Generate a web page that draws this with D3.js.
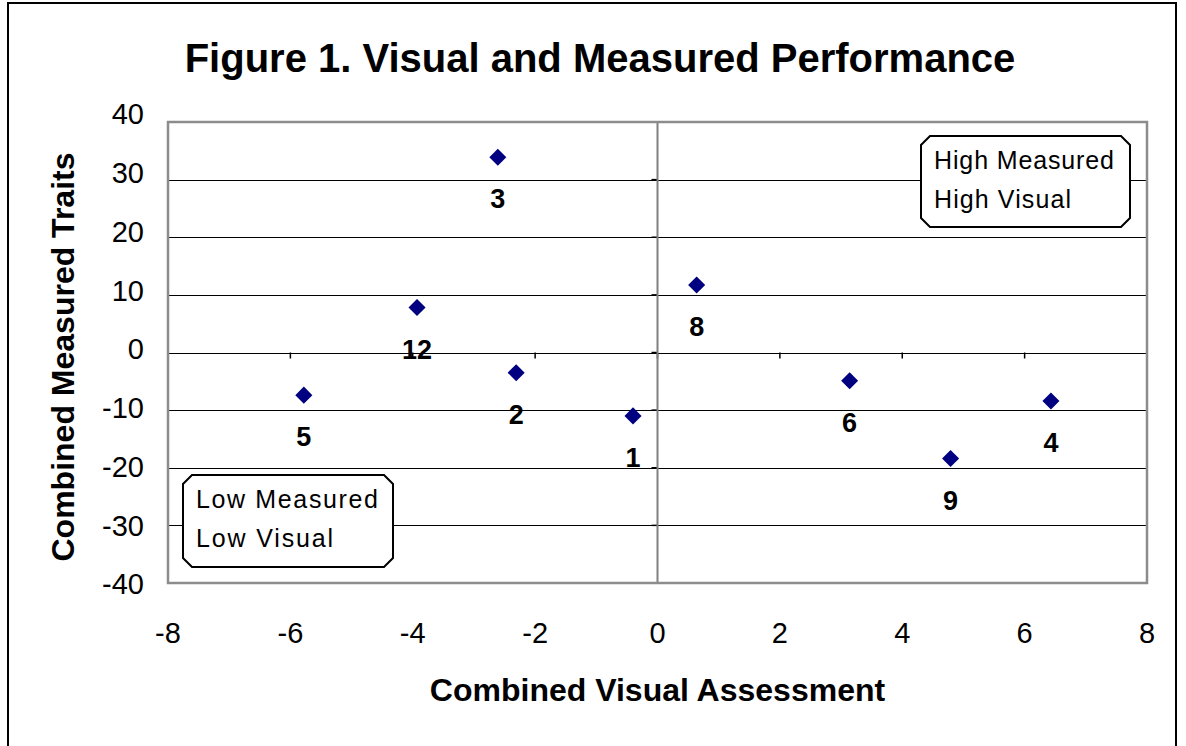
<!DOCTYPE html>
<meta charset="utf-8">
<style>
body { margin: 0; background: #fff; }
svg text { font-family: "Liberation Sans", Arial, sans-serif; fill: #000; }
.grid line { stroke: #000; stroke-width: 1px; shape-rendering: crispEdges; }
.grid path { stroke-width: 0; }
.tick-lbl { font-size: 29px; }
.axis-title { font-size: 32px; font-weight: bold; }
.pt-lbl { font-size: 27px; font-weight: bold; text-anchor: middle; }
.note { font-size: 25px; }
</style>
<body>
<script src="https://d3js.org/d3.v7.min.js"></script>
<script>

// point names, visual assessment (x) and measured traits (y)
var names    = ["3", "12", "2", "5", "1", "8", "6", "9", "4"];
var visual   = [-2.61, -3.93, -2.31, -5.78, -0.40, 0.64, 3.14, 4.79, 6.43];
var measured = [33.9, 7.8, -3.5, -7.4, -11.0, 11.7, -4.9, -18.4, -8.4];

var xTicks = [-8, -6, -4, -2, 0, 2, 4, 6, 8];
var yTicks = [40, 30, 20, 10, 0, -10, -20, -30, -40];

var width = 1186, height = 746;
var plot = {left: 168, right: 1147, top: 122, bottom: 583};

var svg = d3.select("body").append("svg")
    .attr("width", width)
    .attr("height", height);

// outer frame
svg.append("path")
    .attr("d", "M8," + height + "V3H1176V" + height)
    .attr("fill", "none")
    .attr("stroke", "#000")
    .attr("stroke-width", 2);

var x = d3.scaleLinear().domain([-8, 8]).range([plot.left, plot.right]);
var y = d3.scaleLinear().domain([-40, 40]).range([plot.bottom, plot.top]);
// excel spreads the value labels a little wider than the grid
var yLbl = d3.scaleLinear().domain([-40, 40]).range([584, 114]);

// title
svg.append("text")
    .attr("x", 600)
    .attr("y", 72)
    .attr("text-anchor", "middle")
    .style("font-size", "40px")
    .style("font-weight", "bold")
    .text("Figure 1. Visual and Measured Performance");

// horizontal gridlines
svg.append("g")
    .attr("class", "grid")
    .attr("transform", "translate(" + plot.left + ",0)")
    .call(d3.axisLeft(y).tickValues(yTicks)
        .tickSize(-(plot.right - plot.left))
        .tickFormat(""));

// tick marks on the zero lines
var ticksG = svg.append("g").attr("stroke", "#000").attr("stroke-width", 1.5);
ticksG.selectAll(".yt").data(yTicks).enter().append("line")
    .attr("x1", x(0) - 6).attr("x2", x(0))
    .attr("y1", function(d) { return y(d); })
    .attr("y2", function(d) { return y(d); });
ticksG.selectAll(".xt").data(xTicks).enter().append("line")
    .attr("x1", function(d) { return x(d); })
    .attr("x2", function(d) { return x(d); })
    .attr("y1", y(0)).attr("y2", y(0) + 6);

// vertical zero axis
svg.append("line")
    .attr("x1", x(0)).attr("x2", x(0))
    .attr("y1", plot.top).attr("y2", plot.bottom)
    .attr("stroke", "#808080")
    .attr("stroke-width", 2);

// plot border
svg.append("rect")
    .attr("x", plot.left).attr("y", plot.top)
    .attr("width", plot.right - plot.left)
    .attr("height", plot.bottom - plot.top)
    .attr("fill", "none")
    .attr("stroke", "#8c8c8c")
    .attr("stroke-width", 2.5);

// tick labels
svg.selectAll(".ylbl").data(yTicks).enter().append("text")
    .attr("class", "tick-lbl")
    .attr("x", 144)
    .attr("y", function(d) { return yLbl(d); })
    .attr("dy", "0.36em")
    .attr("text-anchor", "end")
    .text(function(d) { return d; });

svg.selectAll(".xlbl").data(xTicks).enter().append("text")
    .attr("class", "tick-lbl")
    .attr("x", function(d) { return x(d); })
    .attr("y", 643)
    .attr("text-anchor", "middle")
    .text(function(d) { return d; });

// axis titles
svg.append("text")
    .attr("class", "axis-title")
    .attr("x", x(0))
    .attr("y", 701)
    .attr("text-anchor", "middle")
    .text("Combined Visual Assessment");

svg.append("text")
    .attr("class", "axis-title")
    .attr("transform", "translate(74," + 357 + ") rotate(-90)")
    .attr("text-anchor", "middle")
    .text("Combined Measured Traits");

// bevelled note boxes
function note(x0, y0, w, h, lines) {
  var c = 9;
  var g = svg.append("g");
  g.append("path")
      .attr("d", "M" + (x0 + c) + "," + y0 + "H" + (x0 + w - c) + "L" + (x0 + w) + "," + (y0 + c) +
                 "V" + (y0 + h - c) + "L" + (x0 + w - c) + "," + (y0 + h) + "H" + (x0 + c) +
                 "L" + x0 + "," + (y0 + h - c) + "V" + (y0 + c) + "Z")
      .attr("fill", "#fff")
      .attr("stroke", "#000")
      .attr("stroke-width", 2);
  lines.forEach(function(l, i) {
    g.append("text")
        .attr("class", "note")
        .attr("x", x0 + 13)
        .attr("y", y0 + 33 + i * 39)
        .attr("textLength", l.len)
        .attr("lengthAdjust", "spacing")
        .text(l.t);
  });
}
note(921, 136, 209, 91, [{t: "High Measured", len: 180}, {t: "High Visual", len: 137}]);
note(183, 475, 210, 92, [{t: "Low  Measured", len: 182}, {t: "Low  Visual", len: 137}]);

// points
var data = names.map(function(n, i) { return {name: n, vx: visual[i], my: measured[i]}; });

svg.selectAll(".pt").data(data).enter().append("path")
    .attr("d", d3.symbol().type(d3.symbolDiamond2).size(185))
    .attr("transform", function(d) { return "translate(" + x(d.vx) + "," + y(d.my) + ")"; })
    .attr("fill", "#000080");

svg.selectAll(".lbl").data(data).enter().append("text")
    .attr("class", "pt-lbl")
    .attr("x", function(d) { return x(d.vx); })
    .attr("y", function(d) { return y(d.my) + 51; })
    .text(function(d) { return d.name; });

</script>
</body>
